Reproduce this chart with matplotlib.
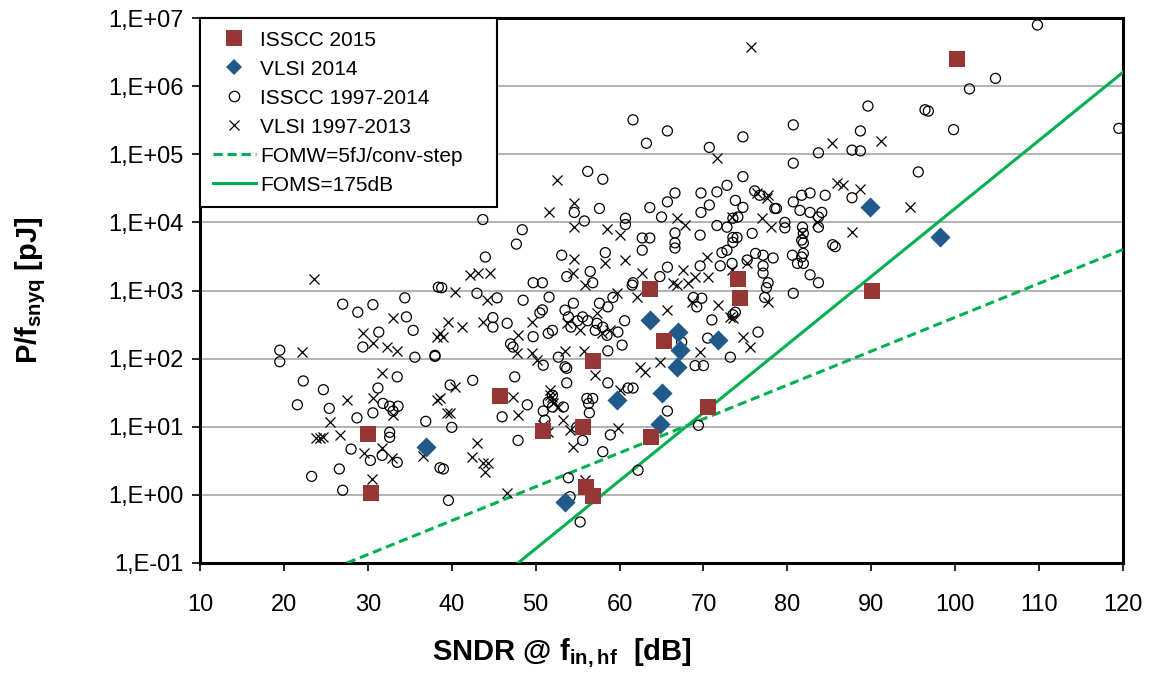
import math
import matplotlib
matplotlib.use("Agg")
import matplotlib.pyplot as plt
from matplotlib.ticker import FixedLocator, FuncFormatter, NullLocator
from matplotlib.lines import Line2D

plt.rcParams['font.family'] = ['Liberation Sans', 'DejaVu Sans']
plt.rcParams['mathtext.fontset'] = 'custom'
plt.rcParams['mathtext.rm'] = 'Liberation Sans'
plt.rcParams['mathtext.bf'] = 'Liberation Sans:bold'

### DATA ###

# ISSCC 2015
isscc15_sndr = [30.0, 30.4, 45.8, 50.9, 55.6, 56.0, 56.8, 56.8, 63.6, 65.3, 63.8, 70.5, 74.1, 74.4, 90.1, 100.2]
isscc15_e = [7.8, 1.06, 28, 8.6, 10, 1.3, 0.95, 91, 1050, 180, 7, 19.5, 1500, 780, 980, 2.5e6]

# VLSI 2014
vlsi14_sndr = [36.9, 53.5, 59.7, 65.1, 64.8, 63.6, 67.0, 67.2, 66.9, 71.7, 98.2, 89.9]
vlsi14_e = [5, 0.78, 24.6, 31, 11, 370, 245, 133, 75, 190, 6000, 16800]

# ISSCC 1997-2014
isscc_sndr = [
    19.5, 19.5, 27.0, 28.8, 30.6, 34.4, 34.6, 35.4, 31.3, 29.4, 35.6, 38.0, 38.4, 33.5, 22.3, 24.7,
    31.2, 21.6, 25.4, 31.8, 32.6, 33.6, 33.0, 30.6, 28.7, 36.9, 32.6, 32.6, 28.0, 30.3, 31.7, 33.5,
    23.3, 26.6, 27.0, 30.6, 38.6,
    61.6, 63.2, 65.7, 56.2, 58.0, 54.6, 55.8, 57.6, 60.7, 60.7, 62.7, 63.6, 62.7, 63.6, 65.0, 65.7,
    66.6, 43.7, 48.4, 47.7, 44.0, 38.8, 43.0, 45.4, 48.5, 49.7, 50.8, 51.6, 53.1, 58.3, 56.5, 53.7,
    61.6, 64.8, 65.7, 66.6, 66.6,
    50.8, 50.5, 46.6, 44.9, 44.9, 53.5, 54.5, 53.9, 55.0, 54.2, 55.6, 52.0, 51.5, 47.0, 47.3, 50.9,
    49.7, 52.7, 53.7, 57.1, 56.2, 57.3, 58.0, 58.5, 59.8, 60.6, 61.5, 59.2, 58.6, 60.3, 58.6, 56.1,
    56.3, 56.8, 61.6, 47.5, 49.0, 51.5, 52.0, 53.7, 56.4, 39.8, 42.5, 58.6, 57.6, 56.8,
    38.0, 40.0, 39.0, 39.6, 46.0, 47.9, 50.9, 51.1, 52.0, 53.3, 54.9, 55.6, 58.0, 58.9, 53.9, 54.1,
    55.3, 62.2, 65.7, 53.5, 69.4, 61.0,
    69.0, 70.0, 73.2, 76.5, 70.5, 67.4, 71.0, 73.8,
    70.7, 74.7, 80.7, 80.7, 89.6, 88.7, 87.7, 88.7, 83.7, 74.7, 87.7, 72.8, 71.6, 69.7, 70.7, 69.7,
    76.1, 76.7, 80.7, 81.7, 82.7, 84.5, 78.7, 73.8, 83.7, 83.7, 85.4, 81.7,
    66.6, 69.6, 71.6, 72.8, 73.5, 74.1, 74.7, 75.8, 74.0, 72.8, 72.2, 69.6, 72.0, 73.4, 68.8, 69.8,
    69.2, 73.5, 75.2, 76.2, 77.1, 78.3, 77.1, 77.1, 77.7, 77.5, 77.3, 80.7, 80.6, 81.2, 81.7, 82.7,
    83.7, 78.5, 79.7, 79.7, 81.8, 84.1,
    96.4, 95.6, 85.7, 81.9, 81.9, 81.9, 81.9, 109.8, 104.8, 101.7, 96.8, 99.8, 119.5, 73.5, 73.5,
    81.5, 82.7,
]
isscc_e = [
    133, 90, 630, 480, 620, 780, 410, 260, 245, 148, 105, 108, 1120, 54, 47, 35,
    37, 21, 18.6, 22, 20, 20, 17, 16, 13.5, 12, 8.3, 7, 4.7, 3.2, 3.8, 3.0,
    1.87, 2.4, 1.17, 1.1, 2.5,
    3.2e5, 1.45e5, 2.2e5, 5.6e4, 4.3e4, 1.4e4, 1.05e4, 1.6e4, 1.15e4, 9.3e3, 5.9e3, 5.9e3, 3.9e3, 1.65e4, 1.2e4, 2e4,
    2.7e4, 1.1e4, 7.8e3, 4.8e3, 3.1e3, 1.1e3, 910, 780, 720, 1.3e3, 1.3e3, 800, 3.3e3, 3.6e3, 1.9e3, 1.6e3,
    1.3e3, 1.6e3, 2.2e3, 7e3, 5e3,
    520, 470, 330, 400, 290, 515, 650, 410, 360, 290, 410, 260, 235, 165, 148, 80,
    210, 105, 72, 260, 360, 330, 290, 220, 245, 360, 1200, 790, 130, 158, 44, 26,
    22, 26, 37, 54, 21, 23, 19.5, 44, 16, 41, 48, 575, 650, 1300,
    112, 9.8, 2.4, 0.83, 14, 6.3, 17, 12.5, 29, 19.5, 9.8, 6.3, 4.3, 7.6, 1.78, 0.94,
    0.4, 2.3, 17, 76, 10.5, 37,
    79, 79, 105, 245, 200, 175, 370, 480,
    1.26e5, 1.8e5, 2.7e5, 7.4e4, 5.1e5, 2.2e5, 1.15e5, 1.12e5, 1.05e5, 4.7e4, 2.3e4, 3.5e4, 2.8e4, 2.7e4, 1.8e4, 1.4e4,
    2.9e4, 2.5e4, 2e4, 2.5e4, 2.7e4, 2.5e4, 1.6e4, 2.1e4, 1.2e4, 8.5e3, 4.7e3, 5.5e3,
    4.2e3, 6.5e3, 9e3, 8.5e3, 1.15e4, 1.2e4, 1.66e4, 6.9e3, 6e3, 3.9e3, 3.6e3, 2.3e3, 2.3e3, 2.5e3, 790, 770,
    575, 440, 2.8e3, 3.5e3, 3.3e3, 3e3, 2.3e3, 1.8e3, 1.3e3, 1.1e3, 790, 910, 3.3e3, 2.5e3, 3.1e3, 1.7e3,
    1.3e3, 1.6e4, 1e4, 8.3e3, 8.5e3, 1.4e4,
    4.5e5, 5.5e4, 4.4e3, 6.9e3, 5e3, 3.5e3, 2.5e3, 7.9e6, 1.3e6, 9.1e5, 4.3e5, 2.3e5, 2.4e5, 6e3, 5.1e3,
    1.5e4, 1.4e4,
]

# VLSI 1997-2013
vlsi_sndr = [
    22.2, 23.6, 33.0, 29.4, 30.6, 32.3, 33.5, 38.2, 31.7, 27.5, 30.6, 33.0, 25.5, 38.2, 26.7, 23.8,
    24.3, 24.6, 29.5, 31.7, 32.9, 30.5, 36.6,
    52.5, 51.6, 54.6, 54.6, 58.5, 60.0, 42.2, 43.1, 44.6, 40.4, 44.2, 54.6, 58.3, 60.7, 55.9, 62.7,
    59.7, 66.8,
    49.6, 43.7, 39.6, 41.2, 39.0, 53.7, 55.3, 47.9, 47.8, 49.6, 50.2, 53.5, 57.9, 58.8, 55.7, 57.1,
    60.0, 47.3, 51.7, 52.0, 52.7, 40.4, 39.4, 57.3, 54.5, 62.1,
    38.6, 38.6, 39.8, 43.0, 42.4, 43.7, 44.3, 44.0, 46.6, 47.9, 50.9, 51.5, 51.7, 52.1, 53.3, 54.1,
    54.5, 59.8, 55.9, 62.4, 63.0, 64.8,
    69.6, 74.7, 75.5, 65.7, 73.5,
    75.7, 71.6, 85.3, 91.2, 85.9, 86.6, 88.7, 77.7, 83.5, 87.7, 81.7, 66.9, 67.8, 70.4, 70.5, 69.0,
    68.2, 67.6, 66.4, 68.6, 71.7, 73.2, 75.2, 77.7, 76.4, 77.6, 78.0, 94.6, 77.0, 73.4, 73.4,
]
vlsi_e = [
    125, 1500, 390, 235, 170, 148, 131, 210, 62, 25, 26, 15, 11.8, 24.5, 7.6, 6.8,
    6.8, 7, 4.1, 4.9, 3.5, 1.7, 3.7,
    4.2e4, 1.4e4, 1.9e4, 8.5e3, 8e3, 6.5e3, 1.7e3, 1.8e3, 1.8e3, 950, 720, 2.9e3, 2.5e3, 2.8e3, 1.2e3, 1.8e3,
    920, 1.2e3,
    350, 350, 350, 290, 210, 330, 260, 220, 120, 120, 95, 130, 235, 260, 130, 57,
    35, 27, 35, 27, 19.5, 38, 16, 470, 1.8e3, 800,
    235, 26, 16, 5.8, 3.6, 2.9, 2.9, 2.2, 1.05, 14.7, 10.5, 8.3, 29, 22, 12.6, 8.9,
    5, 9.6, 1.67, 76, 63, 89,
    126, 210, 148, 510, 400,
    3.7e6, 8.7e4, 1.45e5, 1.55e5, 3.8e4, 3.5e4, 3.1e4, 2.5e4, 1e4, 7.2e3, 6.9e3, 1.15e4, 9e3, 3.1e3, 1.6e3, 1.6e3,
    1.3e3, 2e3, 1.3e3, 670, 620, 410, 2.5e3, 670, 2.7e4, 2.3e4, 8.5e3, 1.66e4, 1.15e4, 1.2e4, 2e3,
]

# figure-of-merit reference lines, end points
fomw_sndr = [27.5, 120]
fomw_e = [0.1, 4000]
foms_sndr = [47.9, 120]
foms_e = [0.1, 1.6e6]

### PLOT ###

fig = plt.figure(figsize=(11.51, 6.77), dpi=100)
ax = fig.add_axes([0.1738, 0.1684, 0.8019, 0.805])

green = '#00B050'
ax.plot(fomw_sndr, fomw_e, color=green, lw=2.2, ls=(0, (3, 1.6)), zorder=3)
ax.plot(foms_sndr, foms_e, color=green, lw=2.2, zorder=3)

ax.scatter(isscc_sndr, isscc_e, s=52, facecolors='none', edgecolors='black', linewidths=0.9, zorder=4)
ax.scatter(vlsi_sndr, vlsi_e, s=52, marker='x', color='black', linewidths=0.9, zorder=4)
ax.scatter(vlsi14_sndr, vlsi14_e, s=105, marker='D', color='#1F5A8A', linewidths=0, zorder=5)
ax.scatter(isscc15_sndr, isscc15_e, s=130, marker='s', color='#953735', linewidths=0, zorder=6)

ax.set_yscale('log')
ax.set_xlim(10, 120)
ax.set_ylim(0.1, 1e7)
ax.xaxis.set_major_locator(FixedLocator(range(10, 121, 10)))
ax.yaxis.set_major_locator(FixedLocator([10.0 ** k for k in range(-1, 8)]))
ax.yaxis.set_minor_locator(NullLocator())

def sci_comma(v, pos):
    k = int(round(math.log10(v)))
    return "1,E%s%02d" % ('+' if k >= 0 else '-', abs(k))

ax.yaxis.set_major_formatter(FuncFormatter(sci_comma))
ax.grid(axis='y', color='#a6a6a6', lw=1.2)
ax.set_axisbelow(True)
for sp in ax.spines.values():
    sp.set_linewidth(2.2)
ax.tick_params(axis='both', labelsize=17, direction='out', length=6, width=1.2)
ax.tick_params(axis='x', pad=16)
ax.tick_params(axis='y', pad=6)

ax.set_xlabel(r"SNDR @ f$_{\mathbf{in,hf}}$  [dB]", fontsize=21, fontweight='bold')
ax.xaxis.set_label_coords(0.392, -0.135)
ax.set_ylabel(r"P/f$_{\mathbf{snyq}}$ [pJ]", fontsize=21, fontweight='bold')
ax.yaxis.set_label_coords(-0.165, 0.5)

handles = [
    Line2D([], [], ls='none', marker='s', ms=11, color='#953735', mew=0),
    Line2D([], [], ls='none', marker='D', ms=8.5, color='#1F5A8A', mew=0),
    Line2D([], [], ls='none', marker='o', ms=7.5, mfc='none', mec='black', mew=0.9),
    Line2D([], [], ls='none', marker='x', ms=7.5, color='black', mew=0.9),
    Line2D([], [], color=green, lw=2.2, ls=(0, (3, 1.6))),
    Line2D([], [], color=green, lw=2.2),
]
labels = ['ISSCC 2015', 'VLSI 2014', 'ISSCC 1997-2014', 'VLSI 1997-2013',
          'FOMW=5fJ/conv-step', 'FOMS=175dB']
leg = ax.legend(handles, labels, loc='upper left', bbox_to_anchor=(0, 0, 297 / 923, 1),
                mode='expand', borderaxespad=0,
                fontsize=15, frameon=True, fancybox=False, handlelength=2.1,
                handletextpad=0.2, labelspacing=0.48, borderpad=0.6)
leg.get_frame().set_edgecolor('black')
leg.get_frame().set_linewidth(1.5)
leg.get_frame().set_alpha(1)
leg.set_zorder(10)

fig.savefig('out.png', dpi=100)
